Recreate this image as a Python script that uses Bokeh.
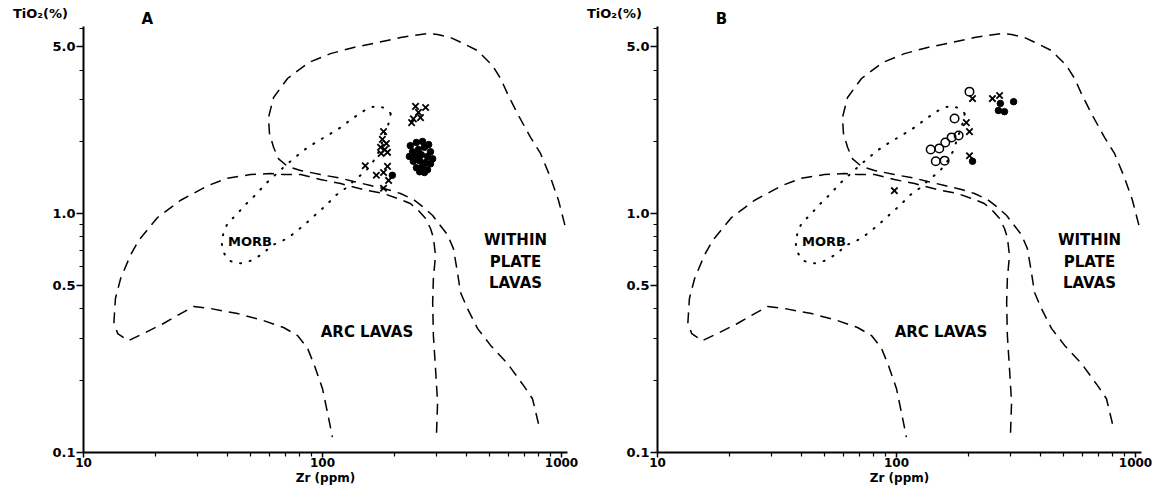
from bokeh.plotting import figure
from bokeh.layouts import row
from bokeh.models import FixedTicker, ColumnDataSource, PrintfTickFormatter
from bokeh.core.properties import value
from bokeh.embed import file_html
from bokeh.resources import INLINE

# ---------------- axis ticks ----------------
zr_ticks = [10, 100, 1000]
zr_minor = [20, 30, 40, 50, 60, 70, 80, 90, 200, 300, 400, 500, 600, 700, 800, 900]
ti_ticks = [0.1, 0.5, 1.0, 5.0]
ti_minor = [0.2, 0.3, 0.4, 0.6, 0.7, 0.8, 0.9, 2, 3, 4, 6]

# ---------------- field boundaries (Zr ppm, TiO2 %) ----------------
wpl_zr = [801, 756, 693, 594, 505, 445, 404, 378, 367, 353, 333, 306, 289, 265, 240, 212, 187, 159, 135, 119,
          98, 81, 71.4, 65.5, 62.4, 60.0, 59.4, 62.4, 71.4, 87.4, 108, 135, 170, 212, 275, 303, 343, 389, 445, 514,
          556, 594, 654, 742, 817, 899, 971, 1039]
wpl_ti = [0.132, 0.168, 0.191, 0.236, 0.281, 0.331, 0.401, 0.468, 0.568, 0.715, 0.819, 0.911, 0.984, 1.063, 1.148,
          1.216, 1.264, 1.314, 1.366, 1.41, 1.46, 1.52, 1.58, 1.70, 1.90, 2.17, 2.53, 3.07, 3.69, 4.30, 4.69, 4.98,
          5.22, 5.48, 5.69, 5.64, 5.48, 5.17, 4.83, 4.18, 3.69, 3.19, 2.63, 2.09, 1.79, 1.42, 1.14, 0.877]

arc_zr = [300, 303, 297, 291, 289, 291, 297, 291, 283, 270, 252, 233, 206, 180, 154, 119, 98, 81, 68.7, 60.6,
          50, 40, 33, 25.5, 20.4, 17, 15.7, 14.3, 13.6, 13.4, 13.9, 15.4, 17.8, 21.6, 25.5, 28.9, 34, 44.1, 56.6,
          68.7, 78.6, 86.6, 92.6, 100, 104.9, 110]
arc_ti = [0.121, 0.162, 0.225, 0.309, 0.425, 0.536, 0.669, 0.796, 0.868, 0.956, 1.032, 1.105, 1.159, 1.216, 1.252,
          1.339, 1.392, 1.46, 1.46, 1.475, 1.46, 1.41, 1.31, 1.14, 0.965, 0.773, 0.669, 0.536, 0.442, 0.350, 0.315,
          0.294, 0.315, 0.347, 0.382, 0.409, 0.401, 0.382, 0.357, 0.334, 0.309, 0.273, 0.231, 0.185, 0.147, 0.116]

morb_zr = [193, 184, 170, 154, 135, 119, 105, 92, 83, 74, 65, 58, 52, 47, 44, 40, 38.5, 37.8, 38.5, 40.4,
           43.3, 46.7, 50.9, 56.1, 61.8, 68, 74.9, 84.1, 94.4, 104, 113, 125, 139, 151, 162, 172, 180, 189, 193]
morb_ti = [2.63, 2.76, 2.84, 2.76, 2.53, 2.30, 2.13, 1.97, 1.84, 1.67, 1.49, 1.34, 1.19, 1.08, 1.00, 0.91, 0.83,
           0.76, 0.69, 0.64, 0.62, 0.62, 0.64, 0.68, 0.74, 0.77, 0.82, 0.90, 1.00, 1.09, 1.19, 1.28, 1.41, 1.50,
           1.64, 1.82, 2.07, 2.39, 2.63]

# ---------------- samples, panel A ----------------
a_cross_zr = [245, 270, 252, 257, 240, 236, 180, 178, 185, 175, 182, 176, 187, 151, 187, 168, 180, 189, 180]
a_cross_ti = [2.82, 2.79, 2.66, 2.53, 2.50, 2.41, 2.21, 2.05, 1.97, 1.90, 1.86, 1.79, 1.81, 1.59, 1.58, 1.45, 1.49,
              1.38, 1.28]
a_dot_zr = [233, 247, 262, 278, 238, 252, 267, 283, 231, 245, 259, 275, 289, 240, 255, 270, 283, 247, 262, 275,
            255, 267, 196]
a_dot_ti = [1.93, 1.99, 2.01, 1.95, 1.82, 1.86, 1.90, 1.82, 1.74, 1.75, 1.77, 1.74, 1.70, 1.66, 1.67, 1.64, 1.62,
            1.56, 1.58, 1.53, 1.50, 1.49, 1.45]

# ---------------- samples, panel B ----------------
b_open_zr = [202, 175, 139, 151, 160, 170, 182, 146, 159]
b_open_ti = [3.25, 2.51, 1.86, 1.88, 1.99, 2.09, 2.13, 1.66, 1.67]
b_cross_zr = [208, 252, 270, 196, 202, 202, 98]
b_cross_ti = [3.04, 3.04, 3.13, 2.41, 2.21, 1.75, 1.25]
b_dot_zr = [272, 309, 267, 283, 208]
b_dot_ti = [2.90, 2.95, 2.71, 2.68, 1.66]

field_labels = ["MORB", "ARC LAVAS", "WITHIN", "PLATE", "LAVAS"]
y_title = "TiO₂(%)"
x_title = "Zr (ppm)"

FONT = "DejaVu Sans"


def make_panel(letter, crosses, dots, opens, width, x_start, x_end):
    p = figure(width=width, height=486, x_axis_type="log", y_axis_type="log",
               x_range=(x_start, x_end), y_range=(0.07202, 7.83),
               output_backend="svg", toolbar_location=None,
               min_border_left=0, min_border_right=0, min_border_top=0, min_border_bottom=0)
    p.outline_line_color = None
    p.grid.visible = False
    p.background_fill_color = "white"
    p.border_fill_color = "white"

    # axes, drawn at Zr = 10 and TiO2 = 0.1 inside the frame
    xa = p.xaxis[0]
    xa.ticker = FixedTicker(ticks=zr_ticks, minor_ticks=zr_minor)
    xa.formatter = PrintfTickFormatter(format="%d")
    xa.bounds = (10, 1060)
    xa.fixed_location = 0.1
    ya = p.yaxis[0]
    ya.ticker = FixedTicker(ticks=ti_ticks, minor_ticks=ti_minor)
    ya.formatter = PrintfTickFormatter(format="%.1f")
    ya.bounds = (0.1, 6.1)
    ya.fixed_location = 10
    for ax in (xa, ya):
        ax.axis_line_width = 2
        ax.axis_line_color = "black"
        ax.major_tick_in = 0
        ax.minor_tick_in = 0
        ax.major_tick_line_width = 1.5
        ax.minor_tick_line_width = 1.2
        ax.major_tick_line_color = "black"
        ax.minor_tick_line_color = "black"
        ax.major_label_text_font = FONT
        ax.major_label_text_font_style = "bold"
        ax.major_label_text_color = "black"
    xa.major_label_text_font_size = "12px"
    ya.major_label_text_font_size = "13px"
    xa.major_tick_out = 5
    xa.minor_tick_out = 4
    xa.major_label_standoff = 1
    xa.axis_label = x_title
    xa.axis_label_text_font = FONT
    xa.axis_label_text_font_size = "12px"
    xa.axis_label_text_font_style = "bold"
    xa.axis_label_text_color = "black"
    xa.axis_label_standoff = 0
    ya.major_tick_out = 7
    ya.minor_tick_out = 4
    ya.major_label_standoff = 1

    # field boundaries
    p.line(wpl_zr, wpl_ti, line_color="black", line_width=1.5, line_dash="11 7")
    p.line(arc_zr, arc_ti, line_color="black", line_width=1.5, line_dash="11 7")
    p.line(morb_zr, morb_ti, line_color="black", line_width=2, line_dash="1 9", line_cap="round")

    # field names
    src = ColumnDataSource(dict(
        x=[49.7, 153.5, 642, 642, 642],
        y=[0.766, 0.319, 0.780, 0.630, 0.515],
        t=field_labels,
        s=["13px", "15px", "15px", "15px", "15px"],
    ))
    p.text(x="x", y="y", text="t", source=src, text_font=value(FONT), text_font_size="s",
           text_font_style="bold", text_align="center", text_baseline="middle", text_color="black")

    # panel letter and y-axis title
    p.text(x=[18.5], y=[6.58], text=[letter], text_font=value(FONT), text_font_size="15px",
           text_font_style="bold", text_align="center", text_baseline="middle", text_color="black")
    p.text(x=[6.6], y=[6.9], text=[y_title], text_font=value(FONT), text_font_size="13px",
           text_font_style="bold", text_align="center", text_baseline="middle", text_color="black")

    # samples
    if opens is not None:
        p.scatter(opens[0], opens[1], marker="circle", size=8.5, fill_color=None,
                  line_color="black", line_width=1.5)
    p.scatter(crosses[0], crosses[1], marker="x", size=9, line_color="black", line_width=1.8)
    p.scatter(dots[0], dots[1], marker="circle", size=6.5, fill_color="black", line_color="black")
    return p


pa = make_panel("A", (a_cross_zr, a_cross_ti), (a_dot_zr, a_dot_ti), None,
                width=585, x_start=4.494, x_end=1260)
pb = make_panel("B", (b_cross_zr, b_cross_ti), (b_dot_zr, b_dot_ti), (b_open_zr, b_open_ti),
                width=569, x_start=4.997, x_end=1201)

layout = row(pa, pb)
open("out.html", "w").write(file_html(layout, INLINE))
